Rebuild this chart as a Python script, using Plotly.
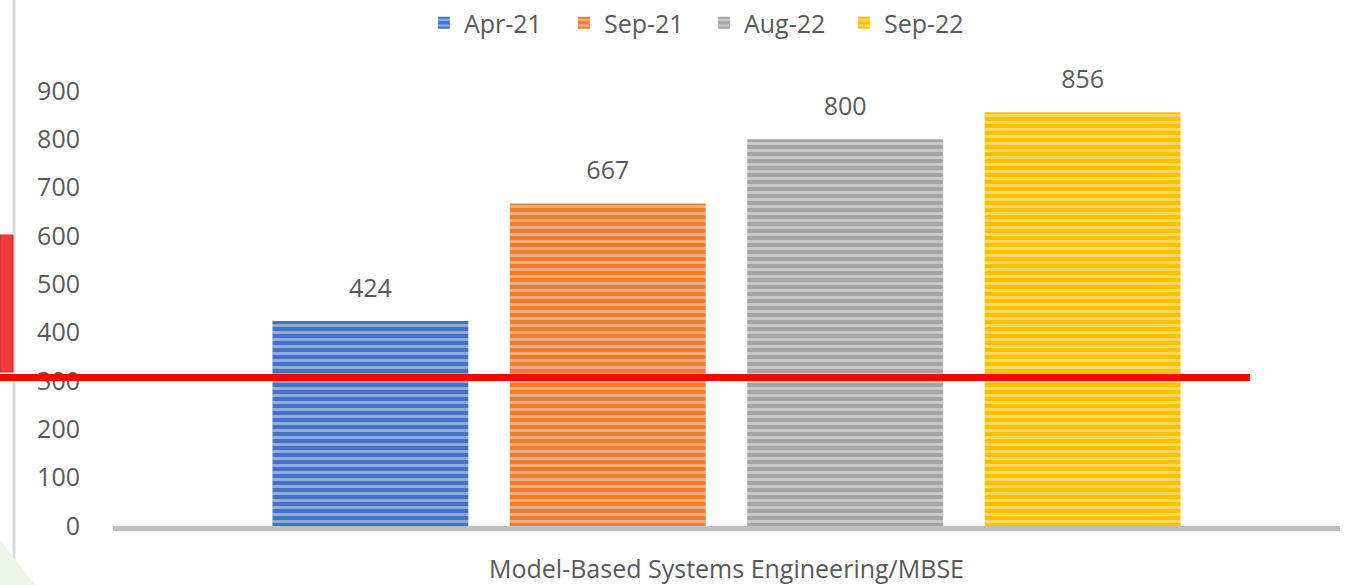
import plotly.graph_objects as go

category = ["Model-Based Systems Engineering/MBSE"]
series_names = ["Apr-21", "Sep-21", "Aug-22", "Sep-22"]
series_values = [424, 667, 800, 856]
series_colors = ["#4472C4", "#ED7D31", "#A5A5A5", "#FFC000"]
stripe_colors = ["#DCE4F4", "#FBDCC6", "#EDEDED", "#FFF1C2"]
y_ticks = [0, 100, 200, 300, 400, 500, 600, 700, 800, 900]
threshold = 307

FONT = "Open Sans"
TXT = "#595959"
FS = 25
LABEL_GAP = 30  # transparent spacer (data units) between a bar top and its value label

# plot area in pixels
L, R, T, B = 113, 7, 91, 59
W, H = 1347, 585
PW, PH = W - L - R, H - T - B

def px(x):
    return (x - L) / PW

def py(y):
    return (H - B - y) / PH

fig = go.Figure()
for name, val, col, sc in zip(series_names, series_values, series_colors, stripe_colors):
    fig.add_trace(go.Bar(
        x=category, y=[val], name=name, offsetgroup=name,
        marker=dict(color=col, line=dict(width=0),
                    pattern=dict(shape="-", fgcolor=sc, bgcolor=col, size=7, solidity=0.42,
                                 fillmode="overlay")),
    ))
    # value label, placed above a transparent spacer sitting on top of the bar
    fig.add_trace(go.Bar(
        x=category, y=[LABEL_GAP], base=[val], offsetgroup=name, showlegend=False,
        marker=dict(color="rgba(0,0,0,0)", line=dict(width=0)),
        text=[str(val)], textposition="outside",
        textfont=dict(family=FONT, size=FS, color=TXT), cliponaxis=False,
        hoverinfo="skip",
    ))

shapes = [
    # left decorative vertical line
    dict(type="line", xref="paper", yref="paper", x0=px(14), x1=px(14), y0=py(0), y1=py(585),
         line=dict(color="#D9D9D9", width=3), layer="below"),
    # left red block
    dict(type="rect", xref="paper", yref="paper", x0=px(0), x1=px(13), y0=py(372), y1=py(235),
         fillcolor="#F23A3A", line=dict(color="#C0302A", width=1), layer="below"),
    # faint green corner
    dict(type="path", xref="paper", yref="paper",
         path=f"M {px(0)},{py(540)} L {px(35)},{py(585)} L {px(0)},{py(585)} Z",
         fillcolor="#EEF6EA", line=dict(width=0), layer="below"),
    # red threshold line
    dict(type="line", xref="paper", yref="y", x0=px(0), x1=px(1250), y0=threshold, y1=threshold,
         line=dict(color="#FF0000", width=7), layer="above"),
]

fig.update_layout(
    width=W, height=H,
    margin=dict(l=L, r=R, t=T, b=B, pad=0, autoexpand=False),
    plot_bgcolor="white", paper_bgcolor="white",
    barmode="group", bargap=0.226, bargroupgap=0.175,
    font=dict(family=FONT, size=FS, color=TXT),
    legend=dict(orientation="h", xref="container", yref="container", x=0.5226, y=1.0,
                xanchor="center", yanchor="top", font=dict(family=FONT, size=FS, color=TXT),
                entrywidth=95, tracegroupgap=0),
    xaxis=dict(showline=True, linecolor="#BFBFBF", linewidth=5, showgrid=False, automargin=False,
               ticks="", tickfont=dict(family=FONT, size=FS, color=TXT), ticklabelstandoff=17),
    yaxis=dict(range=[0, 900], tickvals=y_ticks, showgrid=False, showline=False, zeroline=False,
               automargin=False,
               ticks="", tickfont=dict(family=FONT, size=FS, color=TXT), ticklabelstandoff=32),
    shapes=shapes,
)

fig.write_html("out.html", config={"displayModeBar": False},
               post_script="document.body.style.margin='0px';")
